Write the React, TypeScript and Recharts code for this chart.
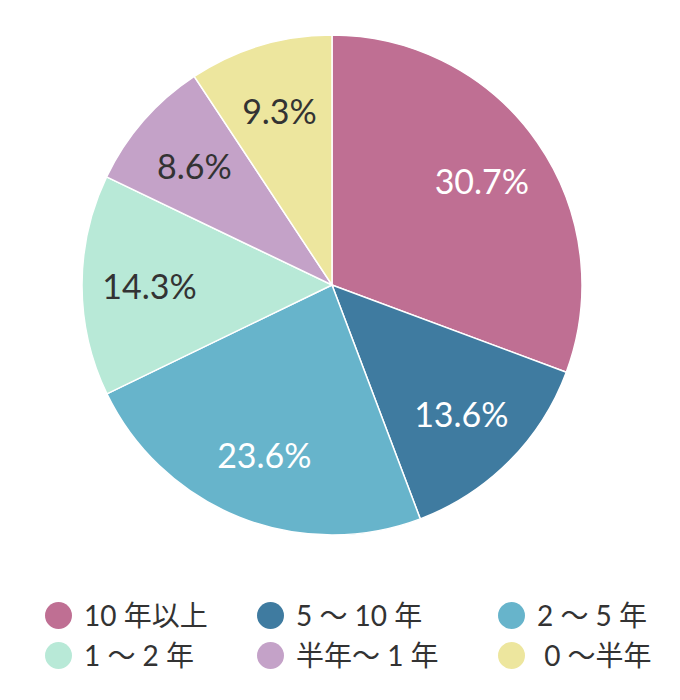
import { PieChart, Pie, Cell, Legend } from "recharts";

const categories = ["10 年以上", "5 〜 10 年", "2 〜 5 年", "1 〜 2 年", "半年〜 1 年", " 0 〜半年"];
const shares = [30.7, 13.6, 23.6, 14.3, 8.6, 9.3];

const COLORS = ["#bf6f93", "#3f7ba0", "#67b4cb", "#b8e9d7", "#c4a2c8", "#ede69e"];
const LABEL_COLORS = ["#ffffff", "#ffffff", "#ffffff", "#333333", "#333333", "#333333"];

const data = categories.map((name, i) => ({ name, value: shares[i] }));

const RAD = Math.PI / 180;

const renderLabel = (props: any) => {
  const { cx, cy, midAngle, outerRadius, index, value } = props;
  const r = outerRadius * 0.73;
  const x = cx + r * Math.cos(-midAngle * RAD);
  const y = cy + r * Math.sin(-midAngle * RAD);
  return (
    <text
      x={x}
      y={y}
      fill={LABEL_COLORS[index]}
      textAnchor="middle"
      dominantBaseline="central"
      fontSize={34}
      fontFamily="Lato, 'Noto Sans', sans-serif"
    >
      {`${value}%`}
    </text>
  );
};

// legend laid out as a 3 x 2 grid, kept in data order
const colLeft = [37, 249, 490];

const LegendGrid = (props: any) => {
  const items = [...(props.payload || [])].sort(
    (a: any, b: any) => categories.indexOf(a.value) - categories.indexOf(b.value)
  );
  return (
    <div style={{ position: "relative", width: 664, height: 90 }}>
      {items.map((entry: any, i: number) => (
        <div
          key={i}
          style={{
            position: "absolute",
            left: colLeft[i % 3],
            top: Math.floor(i / 3) * 40,
            display: "flex",
            alignItems: "center",
            height: 28,
          }}
        >
          <span
            style={{
              display: "inline-block",
              width: 27,
              height: 27,
              borderRadius: "50%",
              background: entry.color,
              marginRight: 12,
            }}
          />
          <span
            style={{
              whiteSpace: "pre",
              fontSize: 28,
              color: "#333333",
              fontFamily: "Lato, 'Noto Sans CJK JP', sans-serif",
              lineHeight: "28px",
            }}
          >
            {entry.value}
          </span>
        </div>
      ))}
    </div>
  );
};

export default function App() {
  return (
    <PieChart width={664} height={684}>
      <Pie
        data={data}
        dataKey="value"
        nameKey="name"
        cx={319}
        cy={272}
        outerRadius={250}
        startAngle={90}
        endAngle={-270}
        stroke="#ffffff"
        strokeWidth={1.5}
        label={renderLabel}
        labelLine={false}
        isAnimationActive={false}
      >
        {data.map((_, i) => (
          <Cell key={i} fill={COLORS[i]} />
        ))}
      </Pie>
      <Legend
        content={<LegendGrid />}
        wrapperStyle={{ position: "absolute", top: 593, left: 0, width: 664 }}
      />
    </PieChart>
  );
}
